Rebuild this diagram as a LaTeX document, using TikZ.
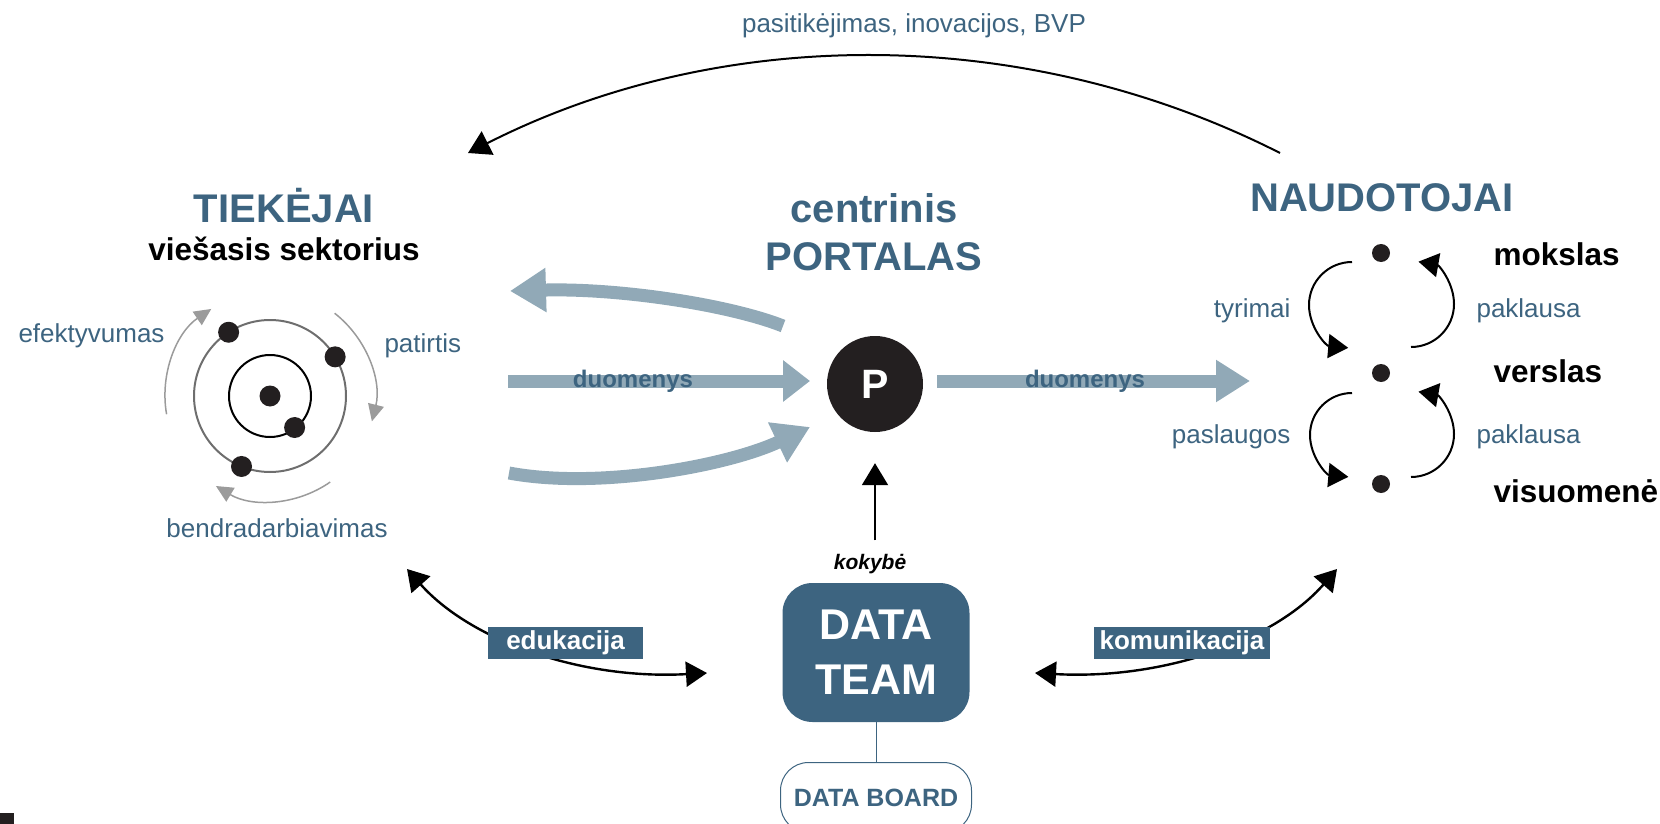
\documentclass[tikz,border=0pt]{standalone}
\usepackage{fontspec}
\setmainfont{Liberation Sans}
\usetikzlibrary{arrows.meta}
\usetikzlibrary{calc}
\definecolor{teamblue}{RGB}{61,100,128}
\definecolor{flowgray}{RGB}{145,169,183}
\definecolor{dotblack}{RGB}{35,31,32}
\definecolor{orbgray}{RGB}{110,110,110}
\definecolor{ringgray}{RGB}{155,155,155}

\begin{document}
\begin{tikzpicture}[x=1pt, y=-1pt,
    dot/.style={circle, fill=dotblack, minimum size=#1, inner sep=0pt},
    dot/.default=21pt,
    hd/.style={text=teamblue, font=\bfseries\fontsize{40}{48}\selectfont, anchor=base},
    lbl/.style={text=teamblue, font=\fontsize{26}{31}\selectfont, anchor=base},
    grp/.style={font=\bfseries\fontsize{31.5}{38}\selectfont, anchor=base west},
    tag/.style={fill=teamblue, text=white, font=\bfseries\fontsize{26}{31}\selectfont, inner sep=0pt, minimum height=32pt},
    flow/.style={draw=flowgray, line width=13pt, -{Triangle[length=36pt,width=42pt]}},
    ring/.style={ringgray, line width=1.5pt, -{Triangle[length=17pt,width=16pt]}},
    blk/.style={black, line width=2pt, -{Triangle[length=22pt,width=26pt]}},
    both/.style={black, line width=2.4pt, {Triangle[length=21pt,width=25pt]}-{Triangle[length=21pt,width=25pt]}},
    cyc/.style={black, line width=2pt, -{Triangle[length=20pt,width=24pt]}}
  ]
  \useasboundingbox (0,0) rectangle (1660,824);
  \clip (0,0) rectangle (1660,824);

  % TIEKEJAI
  \node[hd] (tiek) at (284,222) {TIEKĖJAI};
  \node[grp, anchor=base] (viesas) at (284,260) {viešasis sektorius};
  \begin{scope}[shift={(270,396)}]
    \draw[orbgray, line width=2pt] (0,0) circle[radius=76];
    \draw[black, line width=2pt] (0,0) circle[radius=41];
    \node[dot] (core) at (0,0) {};
    \foreach \a in {237,-31,112} {
      \node[dot] (o\a) at (\a:76) {};
    }
    \node[dot] (inner) at (52:40) {};
    \draw[ring] (170:105) arc[start angle=170, end angle=236, radius=105];
    \draw[ring] (-52:105) arc[start angle=-52, end angle=14, radius=105];
    \draw[ring] (55:105) arc[start angle=55, end angle=121, radius=105];
  \end{scope}
  \node[lbl, anchor=base west] (efekt) at (15,342) {efektyvumas};
  \node[lbl, anchor=base west] (patir) at (381,352) {patirtis};
  \node[lbl] (bendr) at (277,537) {bendradarbiavimas};

  % portalas
  \node[hd] (centr) at (874,222) {centrinis};
  \node[hd] (portl) at (874,270) {PORTALAS};
  \node[circle, fill=dotblack, minimum size=96pt, inner sep=0pt, text=white,
        font=\bfseries\fontsize{41}{49}\selectfont] (portal) at (875,384) {P};

  \coordinate (fbTail) at (783,326);
  \coordinate (fbTip) at (510,291);
  \coordinate (inTail) at (508,381);
  \coordinate (inTip) at (810,381);
  \coordinate (in2Tail) at (509,473);
  \coordinate (in2Tip) at (810,427);
  \coordinate (outTail) at (937,381);
  \coordinate (outTip) at (1250,381);
  \draw[flow] (fbTail) .. controls (730,305) and (620,288) .. (fbTip);
  \draw[flow, -{Triangle[length=27pt,width=40pt]}] (inTail) -- (inTip);
  \draw[flow] (in2Tail) .. controls (600,490) and (730,465) .. (in2Tip);
  \draw[flow, -{Triangle[length=34pt,width=40pt]}] (outTail) -- (outTip);
  \node[text=teamblue, font=\bfseries\fontsize{24}{29}\selectfont, anchor=base] (dIn) at (633,387) {duomenys};
  \node[text=teamblue, font=\bfseries\fontsize{24}{29}\selectfont, anchor=base] (dOut) at (1085,387) {duomenys};

  % NAUDOTOJAI
  \node[hd] (naud) at (1382,211) {NAUDOTOJAI};
  \node[dot=18pt] (mok) at (1381,253) {};
  \node[dot=18pt] (ver) at (1381,373) {};
  \node[dot=18pt] (vis) at (1381,484) {};
  \node[grp] (mokL) at (1490,265) {mokslas};
  \node[grp] (verL) at (1490,382) {verslas};
  \node[grp] (visL) at (1490,502) {visuomenė};
  \draw[cyc] ($(mok)+(-29,9)$) arc[start angle=270, end angle=95, radius=43];
  \draw[cyc] ($(ver)+(30,-26)$) arc[start angle=90, end angle=-80, radius=43];
  \draw[cyc] ($(ver)+(-29,20)$) arc[start angle=270, end angle=95, radius=42];
  \draw[cyc] ($(vis)+(30,-7)$) arc[start angle=90, end angle=-80, radius=43];
  \node[lbl, anchor=base east] (tyr) at (1294,317) {tyrimai};
  \node[lbl, anchor=base west] (pak1) at (1473,317) {paklausa};
  \node[lbl, anchor=base east] (pasl) at (1294,443) {paslaugos};
  \node[lbl, anchor=base west] (pak2) at (1473,443) {paklausa};

  % grizimas
  \coordinate (usrTop) at (1280,153);
  \coordinate (supTop) at (468,153);
  \draw[blk] (usrTop) .. controls (1026,24) and (722,24) .. (supTop);
  \node[lbl] (trust) at (914,33) {pasitikėjimas, inovacijos, BVP};

  % DATA TEAM
  \node[fill=teamblue, rounded corners=30pt, minimum width=187pt, minimum height=139pt,
        text=white, align=center, font=\bfseries\fontsize{43}{55}\selectfont] (team) at (876,652.5) {DATA\\TEAM};
  \node[draw=teamblue, line width=1pt, rounded corners=28pt, minimum width=191pt, minimum height=70pt,
        text=teamblue, font=\bfseries\fontsize{25}{30}\selectfont] (board) at (876,797.5) {DATA BOARD};
  \draw[teamblue, line width=1pt] (team.south) -- (board.north);
  \node[font=\bfseries\itshape\fontsize{21}{25}\selectfont, anchor=base] (kok) at (870,569) {kokybė};
  \coordinate (kokTop) at ([yshift=10pt]kok.north);
  \draw[blk] (kokTop -| portal.south) -- ([yshift=-31pt]portal.south);

  \coordinate (eduA) at (407,569);
  \coordinate (eduB) at (707,673);
  \draw[both] (eduA) .. controls (470,640) and (580,680) .. (eduB);
  \node[tag, minimum width=155pt] (edu) at (565.5,643) {edukacija};
  \coordinate (komA) at (1035,673);
  \coordinate (komB) at (1337,569);
  \draw[both] (komA) .. controls (1165,680) and (1275,640) .. (komB);
  \node[tag, minimum width=176pt] (kom) at (1182,642.5) {komunikacija};

  \fill[dotblack] (0,813) rectangle (14,824);
\end{tikzpicture}
\end{document}
